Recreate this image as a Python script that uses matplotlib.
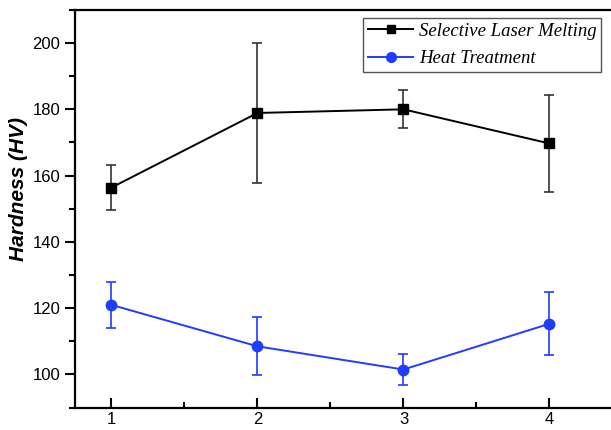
import matplotlib.pyplot as plt
from matplotlib.lines import Line2D
import numpy as np

# Values
samples = [1, 2, 3, 4]
slm_hv = [156.4, 178.9, 180.0, 169.7]
slm_err = [6.8, 21.0, 5.7, 14.5]
ht_hv = [121.0, 108.5, 101.5, 115.3]
ht_err = [7.0, 8.7, 4.7, 9.5]

fig = plt.figure(figsize=(6.11, 4.30), dpi=100)
ax = fig.add_axes([0.1227, 0.052, 0.896, 0.925])

ax.errorbar(samples, slm_hv, yerr=slm_err, color='black', ecolor='#333333',
            marker='s', markersize=6.5, linewidth=1.4, elinewidth=1.2,
            capsize=3.5, capthick=1.2)
ax.errorbar(samples, ht_hv, yerr=ht_err, color='#1f3cff', ecolor='#1f3cff',
            marker='o', markersize=7.5, linewidth=1.4, elinewidth=1.2,
            capsize=3.5, capthick=1.2)

ax.set_xlim(0.75, 4.5)
ax.set_ylim(90, 210)
ax.set_xticks(samples)
ax.set_xticks([1.5, 2.5, 3.5], minor=True)
ax.set_yticks(np.arange(100, 201, 20))
ax.set_yticks(np.arange(90, 211, 10), minor=True)

ax.tick_params(axis='x', which='both', direction='in', width=1.5)
ax.tick_params(axis='x', which='major', length=7, labelsize=12, pad=3)
ax.tick_params(axis='x', which='minor', length=4)
ax.tick_params(axis='y', which='both', direction='out', width=1.5)
ax.tick_params(axis='y', which='major', length=7, labelsize=12)
ax.tick_params(axis='y', which='minor', length=4)
for lab in ax.get_xticklabels() + ax.get_yticklabels():
    lab.set_family('Liberation Sans')

for s in ax.spines.values():
    s.set_linewidth(1.6)
ax.spines['right'].set_visible(False)

ax.set_ylabel('Hardness (HV)', fontsize=15, fontweight='bold', style='italic',
              family='Liberation Sans')
ax.yaxis.set_label_coords(-0.086, 0.55)

handles = [
    Line2D([], [], color='black', marker='s', markersize=6, linewidth=1.4),
    Line2D([], [], color='#1f3cff', marker='o', markersize=7, linewidth=1.4),
]
labels = ['Selective Laser Melting', 'Heat Treatment']
leg = ax.legend(handles, labels, loc='upper right',
                bbox_to_anchor=(0.961, 0.980), borderaxespad=0,
                prop={'family': 'Liberation Serif', 'style': 'italic', 'size': 13.5},
                fancybox=False, edgecolor='#555555', framealpha=1,
                handlelength=2.4, handletextpad=0.3, borderpad=0.25,
                labelspacing=0.55)
leg.get_frame().set_linewidth(1.0)

fig.savefig('out.png', dpi=100)
